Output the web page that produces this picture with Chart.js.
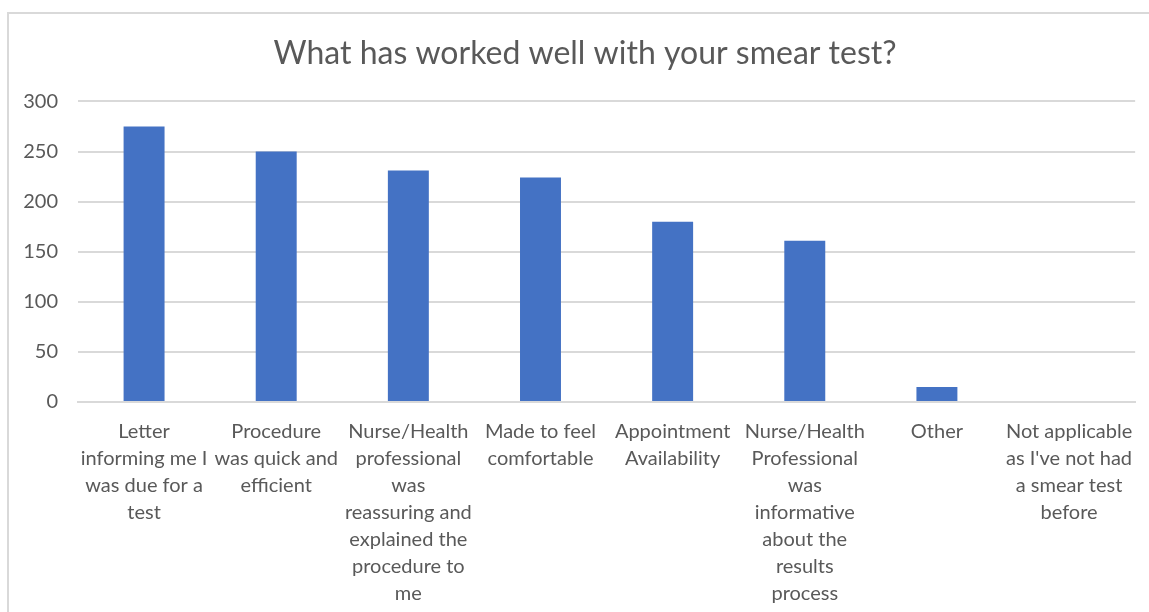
<!DOCTYPE html>
<html>
<head>
<meta charset="utf-8">
<script src="https://cdn.jsdelivr.net/npm/chart.js@4.4.1/dist/chart.umd.min.js"></script>
<style>
  html, body { margin: 0; padding: 0; background: #fff; overflow: hidden; }
  #frame {
    position: absolute; left: 7px; top: 12px; width: 1160px; height: 620px;
    border: 2px solid #d9d9d9; box-sizing: border-box;
  }
  #wrap { position: absolute; left: 0; top: 0; width: 1149px; height: 612px; }
</style>
</head>
<body>
<div id="frame"></div>
<div id="wrap"><canvas id="smear-chart" width="1149" height="612"></canvas></div>
<script>
/* Data */
const categories = [
  ['Letter', 'informing me I', 'was due for a', 'test'],
  ['Procedure', 'was quick and', 'efficient'],
  ['Nurse/Health', 'professional', 'was', 'reassuring and', 'explained the', 'procedure to', 'me'],
  ['Made to feel', 'comfortable'],
  ['Appointment', 'Availability'],
  ['Nurse/Health', 'Professional', 'was', 'informative', 'about the', 'results', 'process'],
  ['Other'],
  ['Not applicable', "as I've not had", 'a smear test', 'before']
];
const responses = [275, 250, 231, 224, 180, 161, 15, 0];
const yTicks = [0, 50, 100, 150, 200, 250, 300];
const chartTitle = 'What has worked well with your smear test?';

const textColor = '#595959';
const gridColor = '#d9d9d9';
const titleFont = { family: 'Lato', size: 32, weight: 'normal', lineHeight: 1.2 };

// title is laid out by Chart.js but drawn centred on the frame, not the canvas
const frameTitle = {
  id: 'frameTitle',
  afterDraw(chart) {
    const t = chart.titleBlock;
    const c = chart.ctx;
    c.save();
    c.fillStyle = textColor;
    c.font = titleFont.size + 'px ' + titleFont.family;
    c.textAlign = 'center';
    c.textBaseline = 'middle';
    c.fillText(chartTitle, 585, (t.top + t.bottom) / 2 + 3);
    c.restore();
  }
};

// Config
const config = {
  type: 'bar',
  data: {
    labels: categories,
    datasets: [{
      label: 'Responses',
      data: responses,
      backgroundColor: '#4472c4',
      borderWidth: 0,
      categoryPercentage: 1,
      barPercentage: 0.31
    }]
  },
  options: {
    responsive: false,
    animation: false,
    layout: { padding: { left: 0, right: 13, top: 0, bottom: 0 } },
    plugins: {
      legend: { display: false },
      tooltip: { enabled: false },
      title: {
        display: true,
        text: chartTitle,
        color: 'rgba(0,0,0,0)',
        font: titleFont,
        padding: { top: 33, bottom: 30 }
      }
    },
    scales: {
      x: {
        grid: { display: false, drawTicks: false },
        border: { display: true, color: gridColor, width: 2 },
        ticks: {
          color: textColor,
          autoSkip: false,
          maxRotation: 0,
          padding: 16,
          font: { family: 'Lato', size: 20, lineHeight: 1.35 }
        },
        afterFit: (s) => { s.height = 210; }
      },
      y: {
        min: 0,
        max: 300,
        afterBuildTicks: (s) => { s.ticks = yTicks.map(v => ({ value: v })); },
        grid: { color: gridColor, lineWidth: 2, drawTicks: false },
        border: { display: false },
        ticks: {
          color: textColor,
          padding: 20,
          font: { family: 'Lato', size: 20 }
        },
        afterFit: (s) => { s.width = 78; }
      }
    }
  },
  plugins: [frameTitle]
};

// Chart Activation
let ctx = document.getElementById('smear-chart').getContext('2d');
let smearChart = new Chart(ctx, config);
</script>
</body>
</html>
